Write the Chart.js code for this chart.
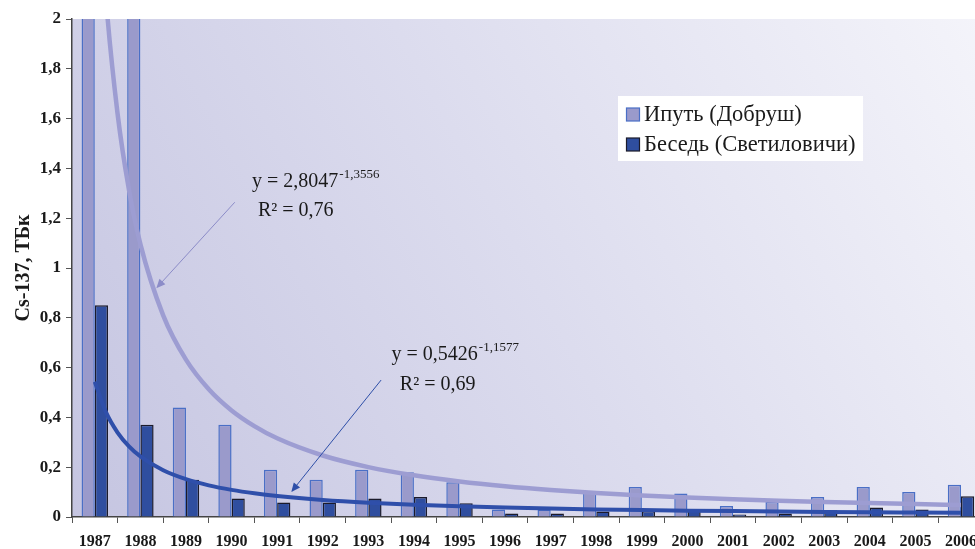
<!DOCTYPE html>
<html>
<head>
<meta charset="utf-8">
<script src="https://cdn.jsdelivr.net/npm/chart.js@4/dist/chart.umd.min.js"></script>
<style>
  html, body { margin: 0; padding: 0; background: #ffffff; overflow: hidden; }
  body { width: 975px; height: 549px; }
  canvas { display: block; }
</style>
</head>
<body>
<canvas id="c" width="986" height="549"></canvas>
<script>
// Annual Cs-137 runoff, TBq
const years = ['1987','1988','1989','1990','1991','1992','1993','1994','1995','1996',
               '1997','1998','1999','2000','2001','2002','2003','2004','2005','2006'];
const iputValues   = [3.6, 2.4, 0.44, 0.37, 0.19, 0.15, 0.19, 0.18, 0.14, 0.03,
                      0.03, 0.10, 0.12, 0.094, 0.044, 0.06, 0.08, 0.12, 0.10, 0.13];
const besedValues  = [0.85, 0.37, 0.15, 0.074, 0.058, 0.058, 0.074, 0.08, 0.055, 0.014,
                      0.014, 0.022, 0.024, 0.027, 0.01, 0.014, 0.027, 0.038, 0.03, 0.083];
// Power trend lines (y = 2,8047x^-1,3556 and y = 0,5426x^-1,1577), sampled denser where they bend
const trendYears   = [1987, 1987.25, 1987.5, 1987.75, 1988, 1988.5, 1989, 1989.5, 1990, 1990.5,
                      1991, 1992, 1993, 1994, 1995, 1996, 1997, 1998, 1999, 2000,
                      2001, 2002, 2003, 2004, 2005, 2006];
const iputTrend    = [2.805, 2.073, 1.619, 1.314, 1.096, 0.810, 0.632, 0.513, 0.428, 0.365,
                      0.316, 0.247, 0.2005, 0.1674, 0.1427, 0.1237, 0.1087, 0.0966, 0.0867, 0.0784,
                      0.0714, 0.0654, 0.0603, 0.0558, 0.0518, 0.0483];
const besedTrend   = [0.543, 0.4191, 0.3393, 0.2838, 0.2432, 0.1878, 0.1521, 0.1272, 0.1090, 0.0951,
                      0.0842, 0.0682, 0.0570, 0.0489, 0.0427, 0.0378, 0.0338, 0.0306, 0.0279, 0.0256,
                      0.0236, 0.0219, 0.0204, 0.0191, 0.0180, 0.0169];
const yTickLabels  = ['0','0,2','0,4','0,6','0,8','1','1,2','1,4','1,6','1,8','2'];
const seriesNames  = ['Ипуть (Добруш)', 'Беседь (Светиловичи)'];

// Trend equation labels, anchored in data units (year, value)
const trendNotes = [
  { base: 'y = 2,8047', exp: '-1,3556', r2: 'R² = 0,76', at: [1990.45, 1.326], r2At: [1990.58, 1.21],
    arrowFrom: [1990.07, 1.264], arrowTo: [1988.35, 0.919], color: '#8c8cc8' },
  { base: 'y = 0,5426', exp: '-1,1577', r2: 'R² = 0,69', at: [1993.51, 0.63], r2At: [1993.69, 0.51],
    arrowFrom: [1993.28, 0.55], arrowTo: [1991.31, 0.1006], color: '#2e4fa8' }
];

const SERIF = '"Liberation Serif", "Times New Roman", serif';

const plotBackground = {
  id: 'plotBackground',
  beforeDraw(chart) {
    const { ctx, chartArea: a } = chart;
    const g = ctx.createLinearGradient(a.left, a.bottom, a.right, a.top);
    g.addColorStop(0, '#c5c5e1');
    g.addColorStop(0.5, '#dcdcee');
    g.addColorStop(1, '#f4f4fa');
    ctx.save();
    ctx.fillStyle = g;
    ctx.fillRect(a.left, a.top, a.right - a.left, a.bottom - a.top);
    ctx.restore();
  }
};

function arrow(ctx, x1, y1, x2, y2, color) {
  const ang = Math.atan2(y2 - y1, x2 - x1);
  const len = 9, half = 4;
  ctx.save();
  ctx.strokeStyle = color;
  ctx.fillStyle = color;
  ctx.lineWidth = 1;
  ctx.beginPath();
  ctx.moveTo(x1, y1);
  ctx.lineTo(x2 - Math.cos(ang) * len * 0.8, y2 - Math.sin(ang) * len * 0.8);
  ctx.stroke();
  ctx.beginPath();
  ctx.moveTo(x2, y2);
  ctx.lineTo(x2 - Math.cos(ang) * len - Math.sin(ang) * half, y2 - Math.sin(ang) * len + Math.cos(ang) * half);
  ctx.lineTo(x2 - Math.cos(ang) * len + Math.sin(ang) * half, y2 - Math.sin(ang) * len - Math.cos(ang) * half);
  ctx.closePath();
  ctx.fill();
  ctx.restore();
}

const trendLabels = {
  id: 'trendLabels',
  afterDatasetsDraw(chart) {
    const { ctx, scales: { x, y } } = chart;
    const px = v => x.getPixelForValue(v[0]);
    const py = v => y.getPixelForValue(v[1]);
    trendNotes.forEach(n => {
      arrow(ctx, px(n.arrowFrom), py(n.arrowFrom), px(n.arrowTo), py(n.arrowTo), n.color);
      ctx.save();
      ctx.fillStyle = '#1a1a1a';
      ctx.textBaseline = 'alphabetic';
      ctx.textAlign = 'left';
      ctx.font = '20px ' + SERIF;
      const bx = px(n.at), by = py(n.at);
      ctx.fillText(n.base, bx, by);
      const w = ctx.measureText(n.base).width;
      ctx.font = '13px ' + SERIF;
      ctx.fillText(n.exp, bx + w + 1, by - 9);
      ctx.font = '20px ' + SERIF;
      ctx.fillText(n.r2, px(n.r2At), py(n.r2At));
      ctx.restore();
    });
  }
};

const boxLegend = {
  id: 'boxLegend',
  afterDraw(chart) {
    const { ctx } = chart;
    const left = 618, top = 96, width = 245, height = 65;
    ctx.save();
    ctx.fillStyle = '#ffffff';
    ctx.fillRect(left, top, width, height);
    ctx.font = '22.5px ' + SERIF;
    ctx.textBaseline = 'middle';
    ctx.textAlign = 'left';
    [0, 1].forEach(i => {
      const ds = chart.data.datasets[i];
      const cy = top + 18.5 + i * 30;
      ctx.fillStyle = ds.backgroundColor;
      ctx.fillRect(626.5, cy - 6.5, 13, 13);
      ctx.strokeStyle = ds.borderColor;
      ctx.lineWidth = 1.2;
      ctx.strokeRect(626.5, cy - 6.5, 13, 13);
      ctx.fillStyle = '#1a1a1a';
      ctx.fillText(ds.label, 644, cy + 1);
    });
    ctx.restore();
  }
};

const yearNums = years.map(Number);
const barPoints = vals => vals.map((v, i) => ({ x: yearNums[i], y: v }));
const trendPoints = vals => trendYears.map((yr, i) => ({ x: yr, y: vals[i] }));

new Chart(document.getElementById('c'), {
  data: {
    datasets: [
      { type: 'bar', label: seriesNames[0], data: barPoints(iputValues),
        backgroundColor: '#9a9acb', borderColor: '#4a6fc6', borderWidth: 1.5,
        barPercentage: 1.0, categoryPercentage: 0.58, order: 3 },
      { type: 'bar', label: seriesNames[1], data: barPoints(besedValues),
        backgroundColor: '#2f4e9f', borderColor: '#1b1b2b', borderWidth: 1.5,
        barPercentage: 1.0, categoryPercentage: 0.58, order: 3 },
      { type: 'line', label: 'trend ' + seriesNames[0], data: trendPoints(iputTrend),
        borderColor: '#9d9dd2', borderWidth: 4.5, pointRadius: 0,
        cubicInterpolationMode: 'monotone', fill: false, order: 2 },
      { type: 'line', label: 'trend ' + seriesNames[1], data: trendPoints(besedTrend),
        borderColor: '#2f4faa', borderWidth: 4, pointRadius: 0,
        cubicInterpolationMode: 'monotone', fill: false, order: 1 }
    ]
  },
  options: {
    responsive: false,
    animation: false,
    devicePixelRatio: 1,
    layout: { padding: { top: 19, left: 0, right: 0, bottom: 0 } },
    plugins: { legend: { display: false }, tooltip: { enabled: false } },
    scales: {
      x: {
        type: 'linear',
        min: 1986.5, max: 2006.5,
        offset: false,
        afterBuildTicks(s) { s.ticks = yearNums.map(v => ({ value: v })); },
        grid: { display: true, drawOnChartArea: false, offset: true, tickLength: 6, color: '#555555', lineWidth: 1 },
        border: { display: true, color: '#444444', width: 1.5 },
        ticks: { font: { family: SERIF, size: 16, weight: 'bold' }, color: '#1a1a1a', padding: 9,
                 maxRotation: 0, autoSkip: false, callback: (v, i) => years[i] },
        afterFit(s) { s.height = 32; }
      },
      y: {
        min: 0, max: 2,
        ticks: { stepSize: 0.2, font: { family: SERIF, size: 17, weight: 'bold' }, color: '#1a1a1a', padding: 5,
                 callback: (v, i) => yTickLabels[i] },
        grid: { display: true, drawOnChartArea: false, tickLength: 6, color: '#555555', lineWidth: 1 },
        border: { display: true, color: '#444444', width: 1.5 },
        title: { display: true, text: 'Cs-137, ТБк', font: { family: SERIF, size: 20, weight: 'bold' },
                 color: '#1a1a1a', padding: { top: 12, bottom: 0 } },
        afterFit(s) { s.width = 72; }
      }
    }
  },
  plugins: [plotBackground, trendLabels, boxLegend]
});
</script>
</body>
</html>
